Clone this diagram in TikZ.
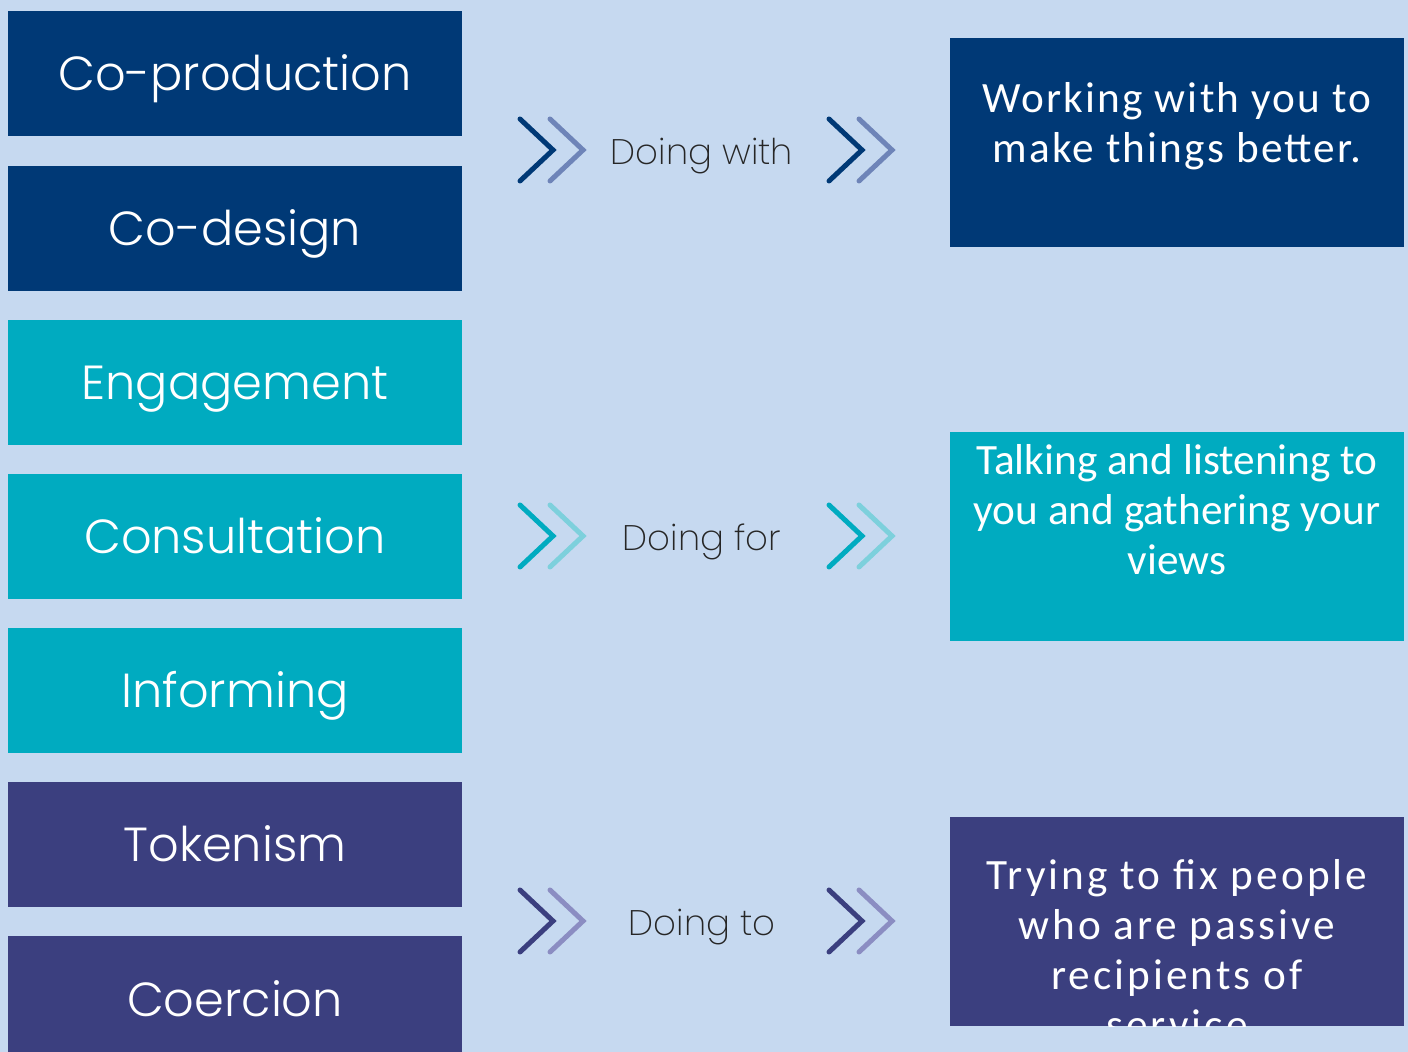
\documentclass[tikz,border=0pt]{standalone}
\usepackage{fontspec}
\setmainfont{Carlito}
\newfontfamily\levelfont{Poppins Light}
\IfFontExistsTF{Poppins ExtraLight}
  {\newfontfamily\thinfont{Poppins ExtraLight}}
  {\newfontfamily\thinfont{Poppins Light}}
\newfontfamily\widefont{Carlito}[LetterSpace=5]
\newfontfamily\widerfont{Carlito}[LetterSpace=7]
\usetikzlibrary{positioning}
\usetikzlibrary{calc}

\definecolor{bgblue}{HTML}{C6D9F0}
\definecolor{navy}{HTML}{003976}
\definecolor{navylt}{HTML}{6E84B8}
\definecolor{teal}{HTML}{00ABC0}
\definecolor{teallt}{HTML}{7DD0DC}
\definecolor{purple}{HTML}{3B3F7F}
\definecolor{purplelt}{HTML}{8B8DC2}
\definecolor{labelgray}{HTML}{262626}

\begin{document}
\begin{tikzpicture}[
  x=0.01cm, y=-0.01cm,
  level/.style={rectangle, minimum width=4.54cm, minimum height=1.25cm, inner sep=0pt, outer sep=0pt,
    text=white, font=\levelfont\fontsize{13.6}{16}\selectfont, text height=0.34cm, text depth=0pt},
  result/.style={rectangle, minimum width=4.54cm, minimum height=2.09cm, inner sep=0pt, outer sep=0pt},
  resulttext/.style={inner sep=0pt, align=center, text=white, font=\fontsize{12.3}{14.2}\selectfont},
  doing/.style={inner sep=0pt, text=labelgray, font=\thinfont\fontsize{10.1}{12}\selectfont,
    text height=0.25cm, text depth=0pt},
  chev/.style={line width=0.05cm, line cap=round, line join=miter},
  node distance=0.29cm
]

% Background
\fill[bgblue] (0,0) rectangle (1408,1052);
\useasboundingbox (0,0) rectangle (1408,1052);
\clip (0,0) rectangle (1408,1052);

% Ladder
\node[level, fill=navy] (coprod) at (235,73.5) {Co-production};
\node[level, fill=navy, below=0.3cm of coprod] (codesign) {Co-design};
\node[level, fill=teal, below=of codesign] (engage) {Engagement};
\node[level, fill=teal, below=of engage] (consult) {Consultation};
\node[level, fill=teal, below=of consult] (inform) {Informing};
\node[level, fill=purple, below=of inform] (token) {Tokenism};
\node[level, fill=purple, below=of token] (coerce) {Coercion};

% Middle labels
\node[doing] (with) at (702,151.5) {Doing with};
\node[doing] (for) at (702,537.5) {Doing for};
\node[doing] (to) at (702,922.5) {Doing to};

% Chevrons
\foreach \yy/\dk/\lt in {150/navy/navylt, 536/teal/teallt, 921/purple/purplelt} {
  \foreach \xx in {553, 862} {
    \draw[chev, \dk] (\xx-33, \yy-31) -- (\xx, \yy) -- (\xx-33, \yy+31);
    \draw[chev, \lt] (\xx-3, \yy-31) -- (\xx+30, \yy) -- (\xx-3, \yy+31);
  }
}

% Results
\node[result, fill=navy] (withbox) at (1177,142.5) {};
\node[result, fill=teal] (forbox) at (1177,536.5) {};
\node[result, fill=purple] (tobox) at (1177,921.5) {};

\node[resulttext, font=\widefont\fontsize{12.3}{14.2}\selectfont, below=0.44cm of withbox.north] (withtext)
  {Working with you to\\make things better.};
\node[resulttext, below=0.12cm of forbox.north] (fortext)
  {Talking and listening to\\you and gathering your\\views};
\begin{scope}
  \clip (tobox.south west) rectangle (tobox.north east);
  \node[resulttext, font=\widerfont\fontsize{12.3}{14.2}\selectfont, below=0.42cm of tobox.north] (totext)
    {Trying to fix people\\who are passive\\recipients of\\service};
\end{scope}

\end{tikzpicture}
\end{document}
